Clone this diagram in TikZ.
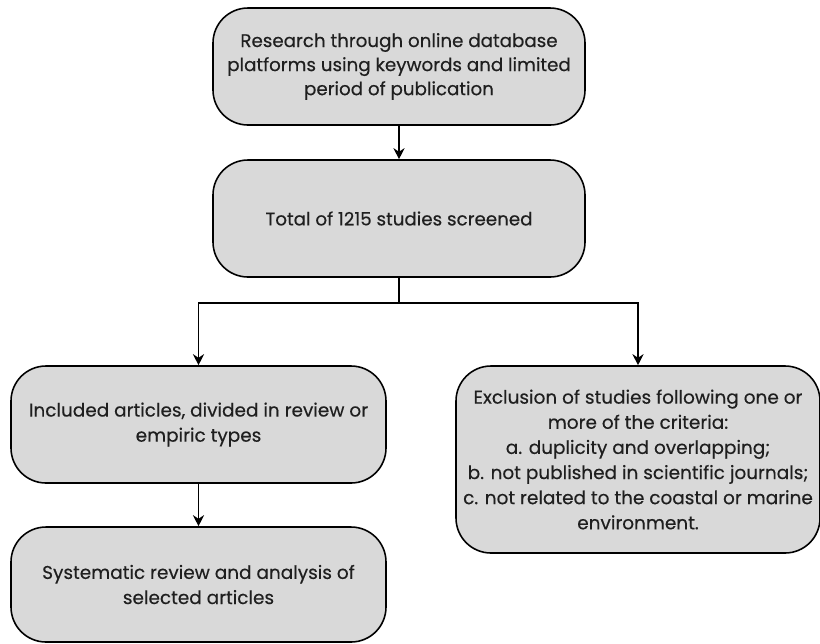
\documentclass[tikz,border=0pt]{standalone}
\usepackage{fontspec}
\setmainfont{Poppins}[FakeBold=0.35]
\usepackage{tikz}
\usetikzlibrary{arrows.meta}
\usepackage{xcolor}
\definecolor{boxgray}{HTML}{D9D9D9}

\begin{document}
\begin{tikzpicture}[>={Stealth[length=2.2mm,width=2.2mm]},
  stage/.style={draw=black,line width=0.9pt,fill=boxgray,rounded corners=0.7cm,
    align=center,inner sep=2pt,font=\fontsize{10.4}{13.7}\selectfont,text=black!88},
  lower/.style={font=\fontsize{10.5}{14.3}\selectfont}]
\useasboundingbox (0,0) rectangle (16.4,-12.86);
\node[stage,minimum width=7.44cm,minimum height=2.34cm] (search) at (7.98,-1.33) {Research through online database\\platforms using keywords and limited\\period of publication};
\node[stage,minimum width=7.44cm,minimum height=2.34cm] (screen) at (7.98,-4.37) {Total of 1215 studies screened};
\node[stage,lower,minimum width=7.5cm,minimum height=2.34cm] (incl) at (3.97,-8.49) {Included articles, divided in review or\\empiric types};
\node[stage,lower,minimum width=7.5cm,minimum height=2.3cm] (review) at (3.97,-11.69) {Systematic review and analysis of\\selected articles};
\node[stage,lower,minimum width=7.28cm,minimum height=3.74cm] (excl) at (12.76,-9.19) {Exclusion of studies following one or\\more of the criteria:\\a. duplicity and overlapping;\\b. not published in scientific journals;\\c. not related to the coastal or marine\\environment.};
\coordinate (split) at (7.98,-6.06);
\draw[->,line width=1.1pt] (search) -- (screen);
\draw[line width=1.1pt] (screen) -- (split);
\draw[->,line width=1.1pt] (split) -| (incl);
\draw[->,line width=1.1pt] (split) -| (excl);
\draw[->,line width=1.1pt] (incl) -- (review);
\end{tikzpicture}
\end{document}
